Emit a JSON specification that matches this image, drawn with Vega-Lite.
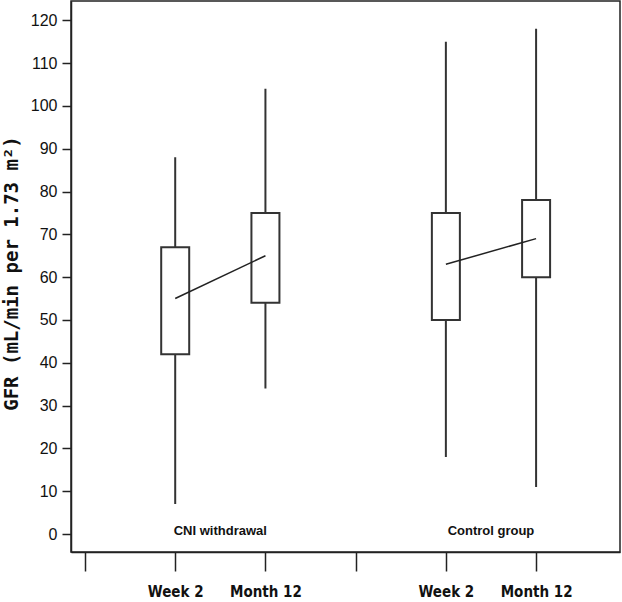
{
  "$schema": "https://vega.github.io/schema/vega-lite/v6.json",
  "autosize": "none",
  "width": 549,
  "height": 551,
  "padding": {"left": 71, "top": 1, "right": 2, "bottom": 50},
  "background": "white",
  "config": {
    "view": {"stroke": "#222", "strokeWidth": 1.5},
    "axis": {"domainColor": "#222", "domainWidth": 1.5, "tickColor": "#222", "tickWidth": 1.5, "grid": false, "labelColor": "#111"}
  },
  "datasets": {
    "boxes": [
      {"group": "CNI withdrawal", "time": "Week 2", "pos": 1, "min": 7, "q1": 42, "median": 55, "q3": 67, "max": 88},
      {"group": "CNI withdrawal", "time": "Month 12", "pos": 2, "min": 34, "q1": 54, "median": 65, "q3": 75, "max": 104},
      {"group": "Control group", "time": "Week 2", "pos": 4, "min": 18, "q1": 50, "median": 63, "q3": 75, "max": 115},
      {"group": "Control group", "time": "Month 12", "pos": 5, "min": 11, "q1": 60, "median": 69, "q3": 78, "max": 118}
    ],
    "groups": [
      {"group": "CNI withdrawal", "center": 1.5},
      {"group": "Control group", "center": 4.5}
    ]
  },
  "layer": [
    {
      "data": {"name": "boxes"},
      "mark": {"type": "rule", "color": "#333", "strokeWidth": 2},
      "encoding": {
        "x": {
          "field": "pos", "type": "quantitative",
          "scale": {"domain": [-0.155, 5.93], "nice": false, "zero": false, "padding": 0},
          "axis": {
            "title": null, "values": [0, 1, 2, 3, 4, 5], "tickSize": 19, "labelPadding": 13,
            "labelFont": "DejaVu Sans Condensed, Liberation Sans", "labelFontWeight": "bold", "labelFontSize": 15,
            "labelBaseline": "top",
            "labelExpr": "datum.value == 1 || datum.value == 4 ? 'Week 2' : (datum.value == 2 || datum.value == 5 ? 'Month 12' : '')"
          }
        },
        "y": {
          "field": "min", "type": "quantitative",
          "scale": {"domain": [-4.2, 124.5], "nice": false, "zero": false},
          "axis": {
            "title": "GFR (mL/min per 1.73 m²)", "values": [0, 10, 20, 30, 40, 50, 60, 70, 80, 90, 100, 110, 120],
            "tickSize": 9, "labelPadding": 5, "labelFont": "Liberation Sans", "labelFontSize": 16,
            "titleFont": "DejaVu Sans Mono", "titleFontWeight": "bold", "titleFontSize": 19,
            "titleX": -60, "titleY": 272, "titleAngle": 270, "titleAlign": "center", "titleBaseline": "middle",
            "titleColor": "#111"
          }
        },
        "y2": {"field": "max"}
      }
    },
    {
      "data": {"name": "boxes"},
      "mark": {"type": "bar", "orient": "vertical", "width": 28, "fill": "white", "stroke": "#333", "strokeWidth": 2},
      "encoding": {
        "x": {"field": "pos", "type": "quantitative"},
        "y": {"field": "q1", "type": "quantitative"},
        "y2": {"field": "q3"}
      }
    },
    {
      "data": {"name": "boxes"},
      "mark": {"type": "line", "color": "#222", "strokeWidth": 1.5},
      "encoding": {
        "x": {"field": "pos", "type": "quantitative"},
        "y": {"field": "median", "type": "quantitative"},
        "detail": {"field": "group"}
      }
    },
    {
      "data": {"name": "groups"},
      "mark": {"type": "text", "font": "Liberation Sans", "fontWeight": "bold", "fontSize": 13, "color": "#111", "baseline": "middle", "align": "center"},
      "encoding": {
        "x": {"field": "center", "type": "quantitative"},
        "y": {"datum": 0.7},
        "text": {"field": "group"}
      }
    }
  ]
}
